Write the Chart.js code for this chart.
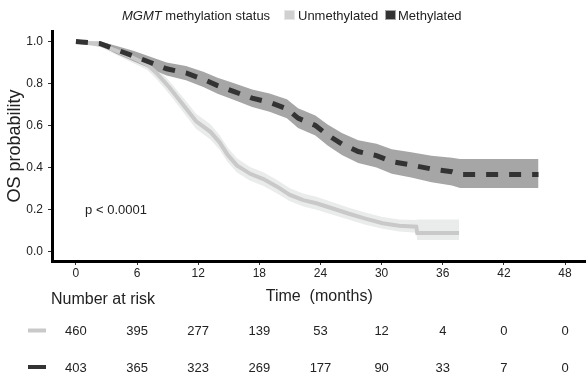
<!DOCTYPE html>
<html><head><meta charset="utf-8">
<script src="https://cdn.jsdelivr.net/npm/chart.js@4"></script>
<style>
html,body{margin:0;padding:0;background:#fff;}
#wrap{position:relative;width:586px;height:374px;font-family:"Liberation Sans",Arial,sans-serif;color:#222;}
#c{position:absolute;left:0;top:0;}
.lg{position:absolute;top:7px;font-size:13px;line-height:17px;white-space:nowrap;}
.bx{position:absolute;top:10px;width:9px;height:8px;border:1px solid;}
</style></head>
<body>
<div id="wrap">
<canvas id="c" width="586" height="374"></canvas>
<div class="lg" style="left:122px"><i>MGMT</i> methylation status</div>
<div class="bx" style="left:284px;background:#d0d0d0;border-color:#e6e8e7"></div>
<div class="lg" style="left:298px">Unmethylated</div>
<div class="bx" style="left:385px;background:#333;border-color:#a6a6a6"></div>
<div class="lg" style="left:398px">Methylated</div>
</div>
<script>
// ---- data ----
const xTicks = [0, 6, 12, 18, 24, 30, 36, 42, 48];
const yTicks = [0, 0.2, 0.4, 0.6, 0.8, 1.0];
const groups = ['Unmethylated', 'Methylated'];

const unmethTime  = [0, 0.5, 2.4, 4.0, 5.7, 7.0, 7.9, 9.2, 10.5, 11.8, 13.2, 14.1, 14.9, 15.8, 17.1, 18.4, 19.7, 21.0, 22.3, 23.6, 25.2, 26.8, 28.4, 30.1, 31.7, 33.4, 33.5, 37.6];
const unmethSurv  = [1, 0.998, 0.985, 0.955, 0.92, 0.89, 0.85, 0.78, 0.70, 0.62, 0.57, 0.52, 0.46, 0.41, 0.37, 0.345, 0.31, 0.27, 0.245, 0.23, 0.205, 0.18, 0.157, 0.135, 0.123, 0.118, 0.088, 0.088];
const unmethLower = [1, 0.994, 0.974, 0.936, 0.895, 0.864, 0.822, 0.748, 0.665, 0.584, 0.534, 0.485, 0.425, 0.376, 0.337, 0.312, 0.278, 0.239, 0.214, 0.199, 0.175, 0.151, 0.128, 0.108, 0.096, 0.09, 0.055, 0.055];
const unmethUpper = [1, 1, 0.996, 0.974, 0.945, 0.916, 0.878, 0.81, 0.735, 0.656, 0.606, 0.555, 0.495, 0.444, 0.403, 0.378, 0.342, 0.301, 0.276, 0.261, 0.235, 0.209, 0.186, 0.164, 0.152, 0.15, 0.153, 0.153];

const methTime  = [0, 0.5, 2.4, 4.0, 5.7, 7.3, 8.9, 10.8, 12.5, 13.9, 15.6, 17.3, 19.0, 20.7, 21.8, 23.5, 24.7, 26.1, 27.7, 29.5, 31.0, 32.9, 34.9, 36.9, 37.7, 45.4];
const methSurv  = [1, 0.998, 0.99, 0.96, 0.93, 0.90, 0.87, 0.85, 0.82, 0.79, 0.76, 0.73, 0.71, 0.68, 0.635, 0.60, 0.555, 0.512, 0.476, 0.457, 0.428, 0.412, 0.393, 0.38, 0.367, 0.367];
const methLower = [1, 0.994, 0.98, 0.94, 0.905, 0.872, 0.838, 0.815, 0.783, 0.751, 0.72, 0.688, 0.666, 0.635, 0.588, 0.552, 0.505, 0.46, 0.422, 0.40, 0.37, 0.352, 0.33, 0.315, 0.303, 0.303];
const methUpper = [1, 1, 1, 0.978, 0.955, 0.928, 0.90, 0.883, 0.856, 0.828, 0.80, 0.772, 0.752, 0.725, 0.682, 0.648, 0.605, 0.564, 0.53, 0.513, 0.487, 0.473, 0.456, 0.447, 0.441, 0.441];

const riskUnmeth = [460, 395, 277, 139, 53, 12, 4, 0, 0];
const riskMeth   = [403, 365, 323, 269, 177, 90, 33, 7, 0];
const pText = 'p < 0.0001';

// ---- styles ----
const FONT = '"Liberation Sans", Arial, sans-serif';
const cUnLine = '#c9c9c9', cUnBand = '#eaeceb', cMeLine = '#333333', cMeBand = '#a7a6a7';
Chart.defaults.font.family = FONT;

const pts = (t, v) => t.map((x, i) => ({x, y: v[i]}));

const riskPlugin = {
  id: 'risk',
  afterDraw(chart) {
    const ctx = chart.ctx, xs = chart.scales.x, ys = chart.scales.y;
    ctx.save();
    ctx.fillStyle = '#222';
    ctx.textBaseline = 'middle';
    // p-value
    ctx.font = '13px ' + FONT;
    ctx.textAlign = 'left';
    ctx.fillText(pText, xs.getPixelForValue(0.9), ys.getPixelForValue(0.197));
    // risk table
    ctx.font = '16px ' + FONT;
    ctx.fillText('Number at risk', 51, 300);
    ctx.font = '13px ' + FONT;
    ctx.textAlign = 'center';
    const rows = [[riskUnmeth, 331.5, cUnLine], [riskMeth, 368, cMeLine]];
    rows.forEach(([vals, y, col]) => {
      ctx.fillStyle = col;
      ctx.fillRect(28, y - 3, 18, 4);
      ctx.fillStyle = '#222';
      vals.forEach((v, i) => ctx.fillText(String(v), xs.getPixelForValue(xTicks[i]), y));
    });
    ctx.restore();
  }
};

new Chart(document.getElementById('c'), {
  type: 'line',
  data: {
    datasets: [
      {label: groups[1], data: pts(methTime, methSurv), borderColor: cMeLine, borderWidth: 5, borderDash: [12, 11], borderCapStyle: 'butt', fill: false},
      {label: groups[0], data: pts(unmethTime, unmethSurv), borderColor: cUnLine, borderWidth: 4, fill: false},
      {label: 'meU', data: pts(methTime, methUpper), borderWidth: 0, backgroundColor: cMeBand, fill: '+1'},
      {label: 'meL', data: pts(methTime, methLower), borderWidth: 0, fill: false},
      {label: 'unU', data: pts(unmethTime, unmethUpper), borderWidth: 0, backgroundColor: cUnBand, fill: '+1'},
      {label: 'unL', data: pts(unmethTime, unmethLower), borderWidth: 0, fill: false}
    ]
  },
  options: {
    responsive: false, animation: false, devicePixelRatio: 1,
    layout: {padding: {top: 31, right: 0, bottom: 68, left: 0}},
    elements: {point: {radius: 0}, line: {tension: 0}},
    plugins: {legend: {display: false}, tooltip: {enabled: false}},
    scales: {
      x: {
        type: 'linear', min: -2.3, max: 50.06,
        afterBuildTicks: s => { s.ticks = xTicks.map(v => ({value: v})); },
        afterFit: s => { s.height = 45; },
        ticks: {font: {size: 12}, color: '#222', padding: 1, maxRotation: 0, autoSkip: false, callback: v => String(v)},
        grid: {display: true, drawOnChartArea: false, drawTicks: true, tickLength: 4, color: '#333', lineWidth: 1},
        border: {display: true, color: '#000', width: 3},
        title: {display: true, text: 'Time  (months)', font: {size: 16}, color: '#222', padding: {top: 0, bottom: 0}}
      },
      y: {
        type: 'linear', min: -0.045, max: 1.05,
        afterBuildTicks: s => { s.ticks = yTicks.map(v => ({value: v})); },
        afterFit: s => { s.width = 52.5; },
        ticks: {font: {size: 12}, color: '#222', padding: 5, callback: v => v.toFixed(1)},
        grid: {display: true, drawOnChartArea: false, drawTicks: true, tickLength: 4.5, color: '#333', lineWidth: 1},
        border: {display: true, color: '#000', width: 3},
        title: {display: true, text: 'OS probability', font: {size: 18}, color: '#222', padding: {top: 4, bottom: 0}}
      }
    }
  },
  plugins: [riskPlugin]
});
</script>
</body></html>
